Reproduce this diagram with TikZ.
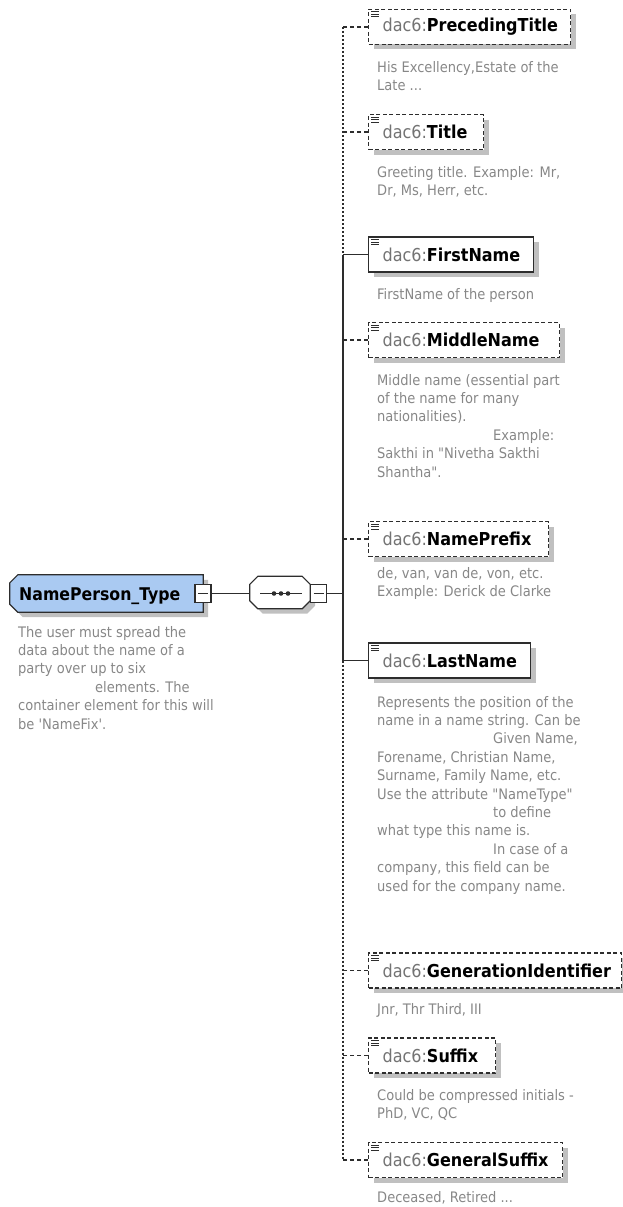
\documentclass[tikz,border=0pt]{standalone}
\usepackage{fontspec}
\newfontfamily\tah{DejaVu Sans Condensed}
\usetikzlibrary{shadows,calc,backgrounds}
\definecolor{descgray}{RGB}{135,135,135}
\definecolor{pfx}{RGB}{115,115,115}
\definecolor{rootblue}{RGB}{170,202,242}
\definecolor{shade}{RGB}{192,192,192}
\definecolor{edge}{RGB}{45,45,45}
\newcommand{\lbl}[1]{\hspace*{14pt}{\color{pfx}dac6:}\textbf{#1}}
\newcommand{\annot}[1]{\draw[icon] ($(#1.north west)+(3,3)$) -- ++(8,0) ($(#1.north west)+(3,5.5)$) -- ++(8,0) ($(#1.north west)+(3,8)$) -- ++(8,0);}
\tikzset{
  elembox/.style={draw=edge, line width=1.2pt, fill=white, anchor=west, minimum height=35pt,
    inner xsep=0pt, inner ysep=0pt, align=left, font=\tah\fontsize{17.8}{20}\selectfont,
    drop shadow={shadow xshift=5pt, shadow yshift=-5pt, fill=shade, opacity=1}},
  optbox/.style={elembox, dash pattern=on 4pt off 2.5pt},
  desc/.style={anchor=north west, inner sep=0pt, align=left, text=descgray, font=\tah\fontsize{14.5}{18.4}\selectfont},
  conn/.style={draw=edge, line width=1.2pt},
  optconn/.style={conn, dash pattern=on 4pt off 3pt},
  vdot/.style={conn, dash pattern=on 2pt off 2pt},
  icon/.style={draw=edge, line width=0.8pt},
  minusbox/.style={draw=edge, line width=1.1pt, fill=white, minimum width=16pt, minimum height=18pt, inner sep=0pt},
  shapeline/.style={draw=edge, line width=1.2pt},
}
% first-line baseline b  ->  node top at b-12.9 (strut height)
\newcommand{\dy}{12.9}
\begin{document}
\begin{tikzpicture}[x=1pt,y=-1pt]
\useasboundingbox (0,0) rectangle (622,1207);
\coordinate (spx) at (343,0);

% root
\node[minimum width=193pt, minimum height=37pt, inner sep=0pt] (rt) at (106.5,593.5) {};
\begin{scope}[on background layer]
\filldraw[shapeline, fill=rootblue, drop shadow={shadow xshift=5pt, shadow yshift=-5pt, fill=shade, opacity=1}]
  ($(rt.north west)+(8,0)$) -- (rt.north east) -- (rt.south east) -- ($(rt.south west)+(8,0)$)
  -- ($(rt.south west)+(0,-8)$) -- ($(rt.north west)+(0,8)$) -- cycle;
\end{scope}
\node[anchor=base west, inner sep=0pt, font=\tah\fontsize{17.5}{19}\selectfont\bfseries] (rtl) at (19,600) {NamePerson\_Type};
\node[minusbox] (rm) at (203,593.5) {};
\draw[conn] ($(rm.center)+(-5,0)$) -- ($(rm.center)+(5,0)$);

% sequence compositor
\node[minimum width=60pt, minimum height=32pt, inner sep=0pt] (seq) at (280,592.5) {};
\begin{scope}[on background layer]
\filldraw[shapeline, fill=white, drop shadow={shadow xshift=5pt, shadow yshift=-5pt, fill=shade, opacity=1}]
  ($(seq.north west)+(8,0)$) -- ($(seq.north east)+(-8,0)$) -- ($(seq.north east)+(0,8)$)
  -- ($(seq.south east)+(0,-8)$) -- ($(seq.south east)+(-8,0)$) -- ($(seq.south west)+(8,0)$)
  -- ($(seq.south west)+(0,-8)$) -- ($(seq.north west)+(0,8)$) -- cycle;
\end{scope}
\draw[conn] ($(seq.center)+(-20,1)$) -- ($(seq.center)+(22,1)$);
\foreach \dx in {-7,0,7} \fill[edge] ($(seq.center)+(\dx+1,1)$) circle (2.3pt);
\node[minusbox] (cm) at (318.5,593.5) {};
\draw[conn] ($(cm.center)+(-5,0)$) -- ($(cm.center)+(5,0)$);
\draw[conn] (rm.east) -- (rm.east -| seq.west);
\draw[conn] (cm.east) -- (cm.east -| spx);

% root description
\node[desc] (rd) at (18,637-\dy) {\strut The user must spread the\\data about the name of a\\party over up to six\\\hspace*{77pt}elements. The\\container element for this will\\be 'NameFix'.};

% elements
\node[optbox, text width=202pt] (pt) at (368,27) {\lbl{PrecedingTitle}};
\node[optbox, text width=115pt] (ti) at (368,132) {\lbl{Title}};
\node[elembox, text width=165pt] (fn) at (368,254.5) {\lbl{FirstName}};
\node[optbox, text width=191pt] (mn) at (368,340) {\lbl{MiddleName}};
\node[optbox, text width=180pt] (np) at (368,539) {\lbl{NamePrefix}};
\node[elembox, text width=162pt] (ln) at (368,660.5) {\lbl{LastName}};
\node[optbox, text width=253pt] (gi) at (368,970.5) {\lbl{GenerationIdentifier}};
\node[optbox, text width=127pt] (sf) at (368,1055.5) {\lbl{Suffix}};
\node[optbox, text width=194pt] (gs) at (368,1160) {\lbl{GeneralSuffix}};
\foreach \n in {pt,ti,fn,mn,np,ln,gi,sf,gs} {\annot{\n}}

% descriptions
\node[desc] (dpt) at (377,72-\dy) {\strut His Excellency,Estate of the\\Late ...};
\node[desc] (dti) at (377,177-\dy) {\strut Greeting title. Example: Mr,\\Dr, Ms, Herr, etc.};
\node[desc] (dfn) at (377,299-\dy) {\strut FirstName of the person};
\node[desc] (dmn) at (377,385-\dy) {\strut Middle name (essential part\\of the name for many\\nationalities).\\\hspace*{116pt}Example:\\Sakthi in "Nivetha Sakthi\\Shantha".};
\node[desc] (dnp) at (377,578-\dy) {\strut de, van, van de, von, etc.\\Example: Derick de Clarke};
\node[desc] (dln) at (377,707-\dy) {\strut Represents the position of the\\name in a name string. Can be\\\hspace*{116pt}Given Name,\\Forename, Christian Name,\\Surname, Family Name, etc.\\Use the attribute "NameType"\\\hspace*{116pt}to define\\what type this name is.\\\hspace*{116pt}In case of a\\company, this field can be\\used for the company name.};
\node[desc] (dgi) at (377,1014-\dy) {\strut Jnr, Thr Third, III};
\node[desc] (dsf) at (377,1100-\dy) {\strut Could be compressed initials -\\PhD, VC, QC};
\node[desc] (dgs) at (377,1202-\dy) {\strut Deceased, Retired ...};

% connectors
\foreach \n in {pt,ti,mn,np,gi,sf,gs} {\draw[optconn] (\n.west) -- (\n.west -| spx);}
\foreach \n in {fn,ln} {\draw[conn] (\n.west) -- (\n.west -| spx);}
\draw[vdot] (pt.west -| spx) -- (fn.west -| spx);
\draw[conn] (fn.west -| spx) -- (ln.west -| spx);
\draw[vdot] (ln.west -| spx) -- (gs.west -| spx);
\end{tikzpicture}
\end{document}
